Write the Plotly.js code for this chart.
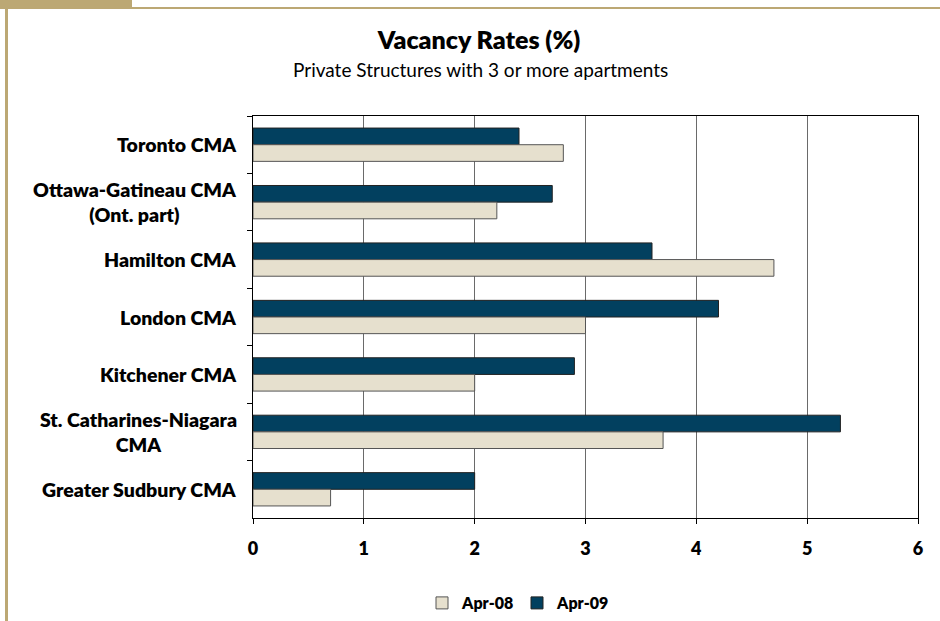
<!DOCTYPE html>
<html>
<head>
<meta charset="utf-8">
<script src="https://cdn.plot.ly/plotly-3.0.1.min.js"></script>
<style>
  html, body { margin: 0; padding: 0; background: #fff; }
  #wrap { position: relative; width: 940px; height: 621px; overflow: hidden; }
  #chart { position: absolute; left: 0; top: 0; width: 940px; height: 621px; }
  .deco { position: absolute; background: #BCA874; z-index: 5; }
</style>
</head>
<body>
<div id="wrap">
  <div id="chart"></div>
  <div class="deco" style="left:0;top:0;width:132px;height:7px;"></div>
  <div class="deco" style="left:0;top:7px;width:940px;height:2px;"></div>
  <div class="deco" style="left:5px;top:9px;width:3px;height:612px;"></div>
</div>
<script>
const categories = [
  "Toronto CMA",
  "Ottawa-Gatineau CMA<br>(Ont. part)",
  "Hamilton CMA",
  "London CMA",
  "Kitchener CMA",
  "St. Catharines-Niagara<br>CMA",
  "Greater Sudbury CMA"
];
const apr08 = [2.8, 2.2, 4.7, 3.0, 2.0, 3.7, 0.7];
const apr09 = [2.4, 2.7, 3.6, 4.2, 2.9, 5.3, 2.0];
const xTicks = [0, 1, 2, 3, 4, 5, 6];
const xTickText = ["0", "1", "2", "3", "4", "5", "6"];

const FONT = "Lato, 'Open Sans', sans-serif";

// plot area in pixels: x 253..918, y 116..518
const traces = [
  {
    type: "bar", orientation: "h", name: "Apr-09",
    y: categories, x: apr09,
    marker: { color: "#02405F", line: { color: "#222222", width: 1 } },
    hoverinfo: "x+name"
  },
  {
    type: "bar", orientation: "h", name: "Apr-08",
    y: categories, x: apr08,
    marker: { color: "#E6E0CE", line: { color: "#555555", width: 1 } },
    hoverinfo: "x+name"
  }
];

const annotations = categories.map(c => ({
  xref: "paper", yref: "y", x: 0, y: c,
  xanchor: "right", yanchor: "middle", xshift: -14,
  text: c, showarrow: false, align: "center",
  font: { family: FONT, size: 19.5, color: "#000", weight: 800 }
}));
annotations.push({
  xref: "paper", yref: "paper",
  x: (480 - 253) / 665, y: (518 - 70) / 402, xanchor: "center", yanchor: "middle",
  text: "Private Structures with 3 or more apartments", showarrow: false,
  font: { family: FONT, size: 19, color: "#000" }
});

const layout = {
  width: 940, height: 621,
  margin: { l: 253, r: 22, t: 116, b: 103 },
  paper_bgcolor: "#ffffff", plot_bgcolor: "#ffffff",
  title: {
    text: "Vacancy Rates (%)",
    xref: "container", yref: "container",
    x: 479 / 940, y: 1 - 40 / 621, xanchor: "center", yanchor: "middle",
    font: { family: FONT, size: 25, color: "#000", weight: 800 }
  },
  barmode: "group",
  bargap: 0.42, bargroupgap: 0,
  xaxis: {
    range: [0, 6], tickvals: xTicks, ticktext: xTickText,
    showgrid: true, gridcolor: "#6a6a6a", gridwidth: 1,
    showline: true, linecolor: "#000", linewidth: 1, mirror: true,
    ticks: "outside", ticklen: 5, tickcolor: "#000",
    ticklabelstandoff: 9,
    zeroline: false, fixedrange: true,
    tickfont: { family: FONT, size: 18, color: "#000", weight: 800 }
  },
  yaxis: {
    type: "category", autorange: "reversed",
    showticklabels: false, showgrid: false,
    showline: true, linecolor: "#000", linewidth: 1, mirror: true,
    ticks: "outside", ticklen: 5, tickcolor: "#000", tickson: "boundaries",
    fixedrange: true
  },
  showlegend: true,
  legend: {
    orientation: "h", xref: "container", yref: "container",
    x: 517 / 940, y: 1 - 603 / 621, xanchor: "center", yanchor: "middle",
    font: { family: FONT, size: 16, color: "#000", weight: 800 },
    traceorder: "reversed", itemwidth: 30,
    entrywidth: 50, entrywidthmode: "pixels"
  },
  annotations: annotations
};

Plotly.newPlot("chart", traces, layout, { displayModeBar: false, staticPlot: true });
</script>
</body>
</html>
